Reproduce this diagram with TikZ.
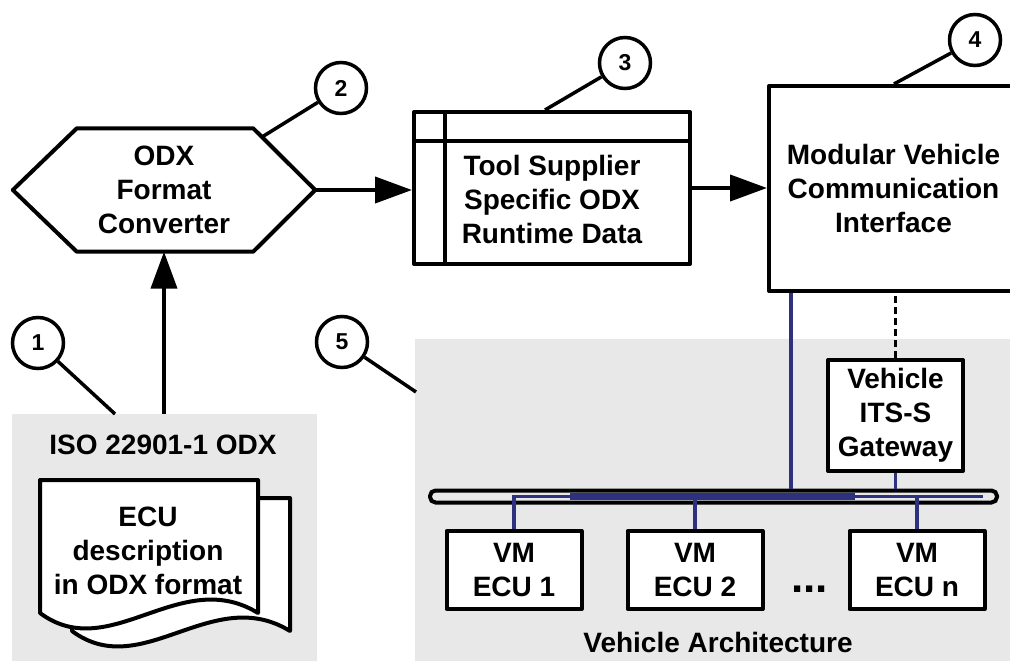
\documentclass[tikz,border=0pt]{standalone}
\usepackage{fontspec}
\setmainfont{Liberation Sans}
\usetikzlibrary{arrows.meta,calc}
\definecolor{areagray}{RGB}{232,232,232}
\definecolor{busblue}{RGB}{46,49,125}
\newcommand{\diafont}{\fontsize{28}{34}\selectfont\bfseries}

\begin{document}
\begin{tikzpicture}[x=1pt,y=-1pt,
    every node/.style={font=\diafont, align=center},
    area/.style={fill=areagray, draw=none, anchor=north west, inner sep=0pt},
    outline/.style={line width=4pt, line join=round},
    block/.style={outline, draw, fill=white, inner sep=0pt},
    callout/.style={draw, circle, line width=3.5pt, minimum size=51pt, inner sep=0pt, fill=white, font=\fontsize{23}{26}\selectfont\bfseries},
    leader/.style={line width=3.5pt},
    flow/.style={line width=4pt, -{Triangle[length=37pt,width=26pt]}},
    busline/.style={draw=busblue, line width=3.6pt},
    linkline/.style={line width=3.5pt, dash pattern=on 7pt off 4pt}]

\useasboundingbox (0,0) rectangle (1010,661);

\node[area, minimum width=305pt, minimum height=247pt] (isoarea) at (12,414) {};
\node[area, minimum width=600pt, minimum height=322pt] (vehicle) at (415,339) {};

\node[minimum width=302pt, minimum height=123pt, inner sep=0pt] (conv) at (164,190) {ODX\\Format\\Converter};
\draw[outline] (conv.west) -- ([xshift=64pt]conv.north west) -- ([xshift=-62pt]conv.north east)
  -- (conv.east) -- ([xshift=-62pt]conv.south east) -- ([xshift=64pt]conv.south west) -- cycle;

\node[block, minimum width=276pt, minimum height=152pt] (rtdata) at (552,188) {};
\node (rtdatatext) at ([yshift=-11pt]rtdata.center) {Tool Supplier\\Specific ODX\\Runtime Data};
\draw[outline] ([xshift=33pt]rtdata.north west) -- ([xshift=33pt]rtdata.south west);
\draw[outline] ([yshift=-31pt]rtdata.north west) -- ([yshift=-31pt]rtdata.north east);

\node[block, minimum width=249pt, minimum height=205pt] (mvci) at (893.5,188.5) {Modular Vehicle\\Communication\\Interface};

\node[block, minimum width=135pt, minimum height=111pt] (gw) at (895.5,415.5) {Vehicle\\ITS-S\\Gateway};

\node[draw, line width=4pt, rounded corners=5.5pt, minimum width=567pt, minimum height=12pt, inner sep=0pt] (bus) at (713.5,496.5) {};

\foreach \name/\x/\lbl in {ecu1/514/1, ecu2/695/2, ecun/917/n}
  \node[block, minimum width=135pt, minimum height=78pt] (\name) at (\x,570) {VM\\ECU \lbl};

\draw[busline] (ecu1.north) -- (ecu1.north |- bus.center) -- ([xshift=-16pt]bus.east);
\draw[busline, line width=7pt] ([xshift=142pt]bus.west) -- ([xshift=427pt]bus.west);
\draw[busline] (ecu2.north) -- (ecu2.north |- bus.center);
\draw[busline] (ecun.north) -- (ecun.north |- bus.center);
\coordinate (mvcitap) at ([xshift=24pt]mvci.south west);
\draw[busline] (mvcitap) -- (mvcitap |- bus.north);
\draw[busline] (gw.south) -- (gw.south |- bus.north);
\draw[linkline] (gw.north) -- (gw.north |- mvci.south);

\foreach \dx/\dy in {32/18, 0/0}
  \draw[block, shift={(\dx,\dy)}] (40,480) -- (258,480) -- (258,613)
    .. controls (180,565) and (110,665) .. (40,613) -- cycle;
\node (ecudoc) at (148,551) {ECU\\description\\in ODX format};

\draw[flow] (conv.south |- isoarea.north) -- (conv.south);
\draw[flow] (conv.east) -- (conv.east -| rtdata.west);
\draw[flow] (rtdata.east) -- (rtdata.east -| mvci.west);

\node (isolabel) at (163,445) {ISO 22901-1 ODX};
\node (archlabel) at (718,642) {Vehicle Architecture};
\node[anchor=base, font=\fontsize{44}{44}\selectfont\bfseries] (dots) at (809.5,592) {...};

\node[callout] (c1) at (38,343) {1};
\node[callout] (c2) at (341,88) {2};
\node[callout] (c3) at (625,63) {3};
\node[callout] (c4) at (975,40) {4};
\node[callout] (c5) at (342,342) {5};
\coordinate (c1end) at (115,414);
\coordinate (c2end) at (262,137);
\coordinate (c3end) at ([xshift=133pt]rtdata.north west);
\coordinate (c4end) at ([xshift=127pt]mvci.north west);
\coordinate (c5end) at (416,392);
\foreach \c in {1,...,5}
  \draw[leader] (c\c) -- (c\c end);

\end{tikzpicture}
\end{document}
